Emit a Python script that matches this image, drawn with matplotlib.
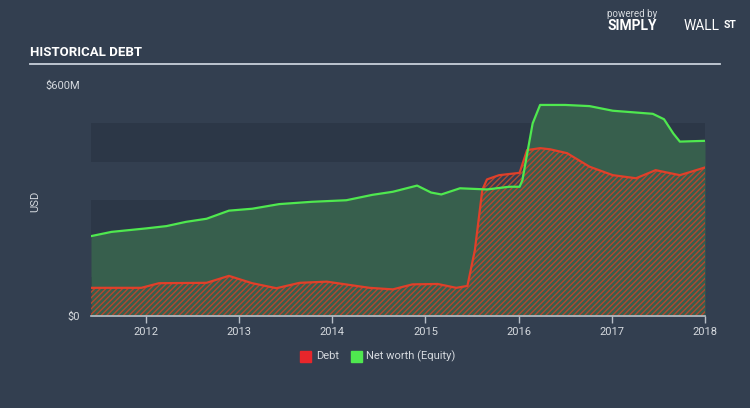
import matplotlib
matplotlib.use("Agg")
import matplotlib.pyplot as plt
import numpy as np
from matplotlib.patches import Rectangle
from matplotlib import font_manager

# ---- data (values in $M, dates in decimal years) ----
equity_dates = [2011.41, 2011.63, 2012.00, 2012.22, 2012.43, 2012.65, 2012.89, 2013.14,
                2013.43, 2013.78, 2014.15, 2014.43, 2014.65, 2014.91, 2015.06, 2015.17,
                2015.37, 2015.66, 2015.90, 2016.01, 2016.04, 2016.15, 2016.23, 2016.50,
                2016.76, 2017.01, 2017.44, 2017.56, 2017.66, 2017.73, 2018.00]
equity_vals = [207, 218, 227, 233, 244, 252, 273, 278,
               290, 296, 300, 314, 322, 338, 320, 315,
               331, 328, 335, 335, 352, 499, 547, 547,
               544, 532, 524, 510, 473, 452, 454]

debt_dates = [2011.41, 2011.95, 2012.14, 2012.65, 2012.89, 2013.14, 2013.40, 2013.65,
              2013.94, 2014.40, 2014.65, 2014.86, 2015.13, 2015.33, 2015.45, 2015.53,
              2015.61, 2015.66, 2015.79, 2016.01, 2016.09, 2016.23, 2016.34, 2016.52,
              2016.76, 2017.01, 2017.26, 2017.47, 2017.73, 2018.00]
debt_vals = [73, 73, 85, 86, 104, 85, 72, 86,
             89, 73, 69, 82, 83, 73, 78, 171,
             327, 354, 365, 371, 430, 435, 432, 422,
             387, 365, 357, 378, 365, 385]

year_ticks = [2012, 2013, 2014, 2015, 2016, 2017, 2018]
y_ticks = [0, 600]
y_tick_labels = ["$0", "$600M"]
band_edges = [0, 100, 200, 300, 400, 500]

BG = "#333f50"
BAND = "#2c3747"
GREEN = "#4fe84f"
RED = "#e0402a"
TXT = "#d5d9de"
FONT = "Roboto"

plt.rcParams["font.family"] = [FONT, "DejaVu Sans"]

W, H = 750, 408
fig = plt.figure(figsize=(W / 100, H / 100), dpi=100, facecolor=BG)

ax_left, ax_right = 91 / W, 705 / W
ax_bottom = (H - 316) / H
ax_top = (H - 84.5) / H
ax = fig.add_axes([ax_left, ax_bottom, ax_right - ax_left, ax_top - ax_bottom])
ax.set_facecolor(BG)
ax.set_xlim(2011.41, 2018.0)
ax.set_ylim(0, 600)

# alternating background bands
for i, b in enumerate(band_edges):
    if i % 2 == 0:
        ax.axhspan(b, b + 100, color=BAND, lw=0, zorder=0)

# equity area
ax.fill_between(equity_dates, equity_vals, 0, color="#375f4d", lw=0, zorder=1)

# debt area hatched
plt.rcParams["hatch.linewidth"] = 1.0
ax.fill_between(debt_dates, debt_vals, 0, facecolor="none", edgecolor="#b5472f",
                hatch="//////", lw=0, zorder=2)
ax.plot(debt_dates, debt_vals, color=RED, lw=1.6, zorder=3, solid_joinstyle="round")
ax.plot(equity_dates, equity_vals, color=GREEN, lw=1.6, zorder=4, solid_joinstyle="round")

# axes styling
for s in ["top", "right", "left"]:
    ax.spines[s].set_visible(False)
ax.spines["bottom"].set_color("#b8bfc8")
ax.spines["bottom"].set_linewidth(1.2)
ax.spines["bottom"].set_zorder(5)
ax.set_xticks(year_ticks)
ax.set_xticklabels([str(y) for y in year_ticks])
ax.tick_params(axis="x", colors="#b8bfc8", length=5, width=1, labelcolor=TXT,
               labelsize=8, pad=3)
ax.set_yticks(y_ticks)
ax.set_yticklabels(y_tick_labels)
ax.tick_params(axis="y", length=0, labelcolor=TXT, labelsize=8, pad=8)

fig.text(35 / W, 1 - 201 / H, "USD", color=TXT, fontsize=8, rotation=90,
         va="center", ha="center")

# title and rule
title_family = [FONT, "DejaVu Sans"]
try:
    font_manager.findfont("Liberation Sans Narrow", fallback_to_default=False)
    title_family = ["Liberation Sans Narrow"] + title_family
except Exception:
    pass
fig.text(30 / W, 1 - 53 / H, "HISTORICAL DEBT", color="white", fontsize=9.5,
         fontweight="bold", family=title_family, fontstretch="condensed",
         va="center", ha="left")
fig.add_artist(plt.Line2D([30 / W, 720 / W], [1 - 63.5 / H, 1 - 63.5 / H],
                          color="#c8d0da", lw=1.3, transform=fig.transFigure))

# logo text
fig.text(607 / W, 1 - 14 / H, "powered by", color="#d5d9de", fontsize=7, va="center")
fig.text(607 / W, 1 - 26.5 / H, "SIMPLY", color="white", fontsize=10, fontweight="bold",
         va="center")
fig.text(684 / W, 1 - 26.5 / H, "WALL", color="white", fontsize=10, va="center")
fig.text(724 / W, 1 - 25 / H, "ST", color="white", fontsize=7.5, fontweight="bold",
         va="center")

# legend
leg_y = 1 - 356 / H
fig.add_artist(Rectangle((300 / W, leg_y - 5.5 / H), 11 / W, 11 / H, color="#e8262b",
                         transform=fig.transFigure))
fig.text(316 / W, leg_y, "Debt", color=TXT, fontsize=8, va="center")
fig.add_artist(Rectangle((351 / W, leg_y - 5.5 / H), 11 / W, 11 / H, color="#4fe84f",
                         transform=fig.transFigure))
fig.text(366 / W, leg_y, "Net worth (Equity)", color=TXT, fontsize=8, va="center")

fig.savefig("out.png", dpi=100, facecolor=BG)
